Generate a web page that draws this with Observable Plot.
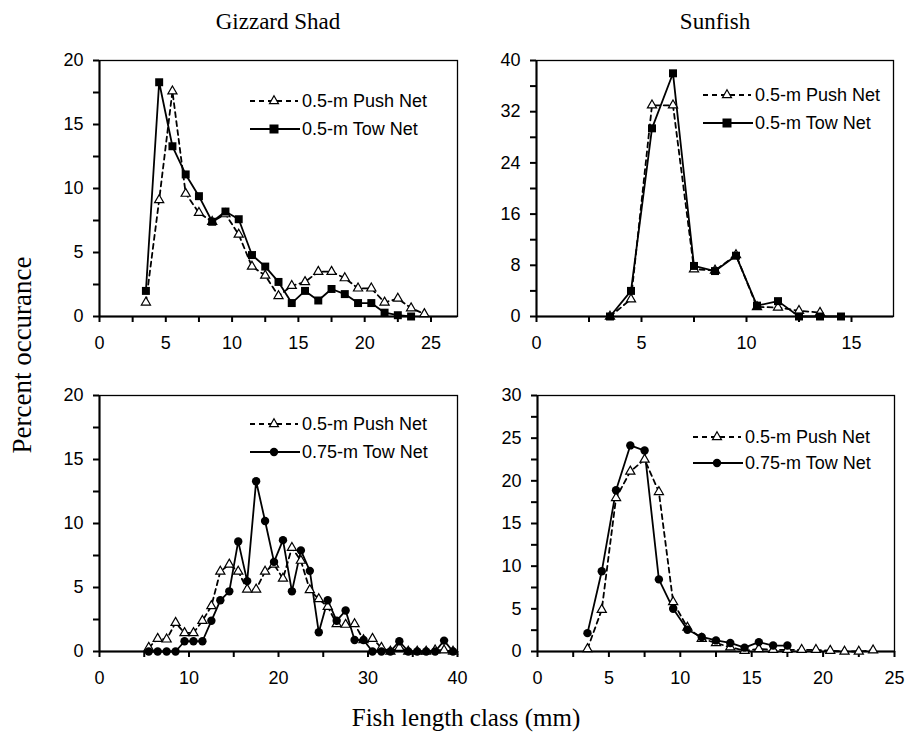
<!DOCTYPE html>
<html>
<head>
<meta charset="utf-8">
<script src="https://cdn.jsdelivr.net/npm/d3@7"></script>
<script src="https://cdn.jsdelivr.net/npm/@observablehq/plot@0.6"></script>
<style>
  html, body { margin: 0; padding: 0; background: white; }
  #root { position: relative; width: 907px; height: 739px; overflow: hidden; background: white; }
  .abs { position: absolute; }
  .title { font-family: "Liberation Serif", "Times New Roman", serif; font-size: 23px; color: #000; white-space: nowrap; transform: translate(-50%, -50%); }
  .axlab { font-family: "Liberation Serif", "Times New Roman", serif; font-size: 25px; color: #000; white-space: nowrap; }
  .legend { font-family: "Liberation Sans", Arial, sans-serif; font-size: 18px; }
</style>
</head>
<body>
<div id="root"></div>
<script>
// ---------- DATA ----------
// Gizzard Shad, top panel (0.5-m push net vs 0.5-m tow net)
const gsTopPushClass = [3.5,4.5,5.5,6.5,7.5,8.5,9.5,10.5,11.5,12.5,13.5,14.5,15.5,16.5,17.5,18.5,19.5,20.5,21.5,22.5,23.5,24.5];
const gsTopPush      = [1.1,9.1,17.6,9.6,8.1,7.4,8.0,6.4,3.9,3.2,1.6,2.4,2.7,3.5,3.5,3.0,2.2,2.2,1.1,1.4,0.65,0.2];
const gsTopTowClass  = [3.5,4.5,5.5,6.5,7.5,8.5,9.5,10.5,11.5,12.5,13.5,14.5,15.5,16.5,17.5,18.5,19.5,20.5,21.5,22.5,23.5];
const gsTopTow       = [2.0,18.3,13.3,11.1,9.4,7.4,8.2,7.6,4.8,3.9,2.7,1.05,2.0,1.25,2.15,1.75,1.05,1.05,0.3,0.1,0.0];

// Sunfish, top panel (0.5-m push net vs 0.5-m tow net)
const sfTopPushClass = [3.5,4.5,5.5,6.5,7.5,8.5,9.5,10.5,11.5,12.5,13.5];
const sfTopPush      = [0,2.7,33.0,33.0,7.4,7.2,9.6,1.5,1.4,0.9,0.6];
const sfTopTowClass  = [3.5,4.5,5.5,6.5,7.5,8.5,9.5,10.5,11.5,12.5,13.5,14.5];
const sfTopTow       = [0,4.0,29.4,38.0,7.9,7.1,9.5,1.7,2.4,0,0,0];

// Gizzard Shad, bottom panel (0.5-m push net vs 0.75-m tow net)
const gsBotClass = [5.5,6.5,7.5,8.5,9.5,10.5,11.5,12.5,13.5,14.5,15.5,16.5,17.5,18.5,19.5,20.5,21.5,22.5,23.5,24.5,25.5,26.5,27.5,28.5,29.5,30.5,31.5,32.5,33.5,34.5,35.5,36.5,37.5,38.5,39.5];
const gsBotPush  = [0.3,1.0,0.95,2.25,1.45,1.45,2.4,3.55,6.25,6.8,6.25,4.85,4.85,6.25,6.8,5.7,8.1,7.1,4.8,4.1,3.5,2.15,2.1,2.15,0.9,1.0,0.3,0,0.3,0,0,0,0.1,0.1,0];
const gsBotTow   = [0,0,0,0,0.8,0.8,0.8,2.4,4.0,4.7,8.6,5.5,13.3,10.2,7.0,8.7,4.7,7.9,6.3,1.5,4.0,2.4,3.2,0.9,0.9,0,0,0,0.8,0,0,0,0,0.85,0];

// Sunfish, bottom panel (0.5-m push net vs 0.75-m tow net)
const sfBotPushClass = [3.5,4.5,5.5,6.5,7.5,8.5,9.5,10.5,11.5,12.5,13.5,14.5,15.5,16.5,17.5,18.5,19.5,20.5,21.5,22.5,23.5];
const sfBotPush      = [0.3,4.9,18.0,21.1,22.5,18.7,5.8,2.8,1.5,1.0,0.5,0.1,0.3,0.2,0.2,0.2,0.2,0.1,0,0,0.15];
const sfBotTowClass  = [3.5,4.5,5.5,6.5,7.5,8.5,9.5,10.5,11.5,12.5,13.5,14.5,15.5,16.5,17.5];
const sfBotTow       = [2.15,9.4,18.9,24.15,23.55,8.45,5.0,2.55,1.7,1.3,1.0,0.45,1.1,0.7,0.7];

// Text
const columnTitles = ["Gizzard Shad", "Sunfish"];
const yTitle = "Percent occurance";
const xTitle = "Fish length class (mm)";
const pushLabel = "0.5-m Push Net";
const towLabels = ["0.5-m Tow Net", "0.75-m Tow Net"];

// Tick values
const tlXTicks = [0,2.5,5,7.5,10,12.5,15,17.5,20,22.5,25];
const tlXLabels = [0,5,10,15,20,25];
const tlYTicks = [0,2.5,5,7.5,10,12.5,15,17.5,20];
const tlYLabels = [0,5,10,15,20];
const trXTicks = [0,2.5,5,7.5,10,12.5,15];
const trXLabels = [0,5,10,15];
const trYTicks = [0,4,8,12,16,20,24,28,32,36,40];
const trYLabels = [0,8,16,24,32,40];
const blXTicks = [0,5,10,15,20,25,30,35,40];
const blXLabels = [0,10,20,30,40];
const blYTicks = tlYTicks;
const blYLabels = tlYLabels;
const brXTicks = [0,2.5,5,7.5,10,12.5,15,17.5,20,22.5,25];
const brXLabels = [0,5,10,15,20,25];
const brYTicks = [0,2.5,5,7.5,10,12.5,15,17.5,20,22.5,25,27.5,30];
const brYLabels = [0,5,10,15,20,25,30];

// ---------- DRAWING ----------
const root = document.getElementById("root");
const zip = (xs, ys) => xs.map((x, i) => ({x, y: ys[i]}));

function panel(o) {
  const push = zip(o.pushX, o.pushY);
  const tow = zip(o.towX, o.towY);
  const towDot = o.towSymbol === "square"
    ? Plot.dot(tow, {x: "x", y: "y", symbol: "square", r: 4.5, fill: "black", stroke: "none"})
    : Plot.dot(tow, {x: "x", y: "y", symbol: "circle", r: 4.2, fill: "black", stroke: "none"});
  const chart = Plot.plot({
    width: o.width, height: o.height,
    marginLeft: o.ml, marginRight: o.mr, marginTop: o.mt, marginBottom: o.mb,
    style: {fontFamily: "'Liberation Sans', Arial, sans-serif", fontSize: "18px", color: "black", background: "transparent", overflow: "visible"},
    x: {domain: o.xDomain},
    y: {domain: o.yDomain},
    marks: [
      Plot.frame({stroke: "black", strokeWidth: 1.3}),
      Plot.axisX({ticks: o.xTicks, tickSize: 6, tickPadding: 14, strokeWidth: 2, label: null,
        tickFormat: d => o.xLabels.includes(d) ? String(d) : ""}),
      Plot.axisY({ticks: o.yTicks, tickSize: 6, tickPadding: 10, strokeWidth: 2, label: null,
        tickFormat: d => o.yLabels.includes(d) ? String(d) : ""}),
      Plot.ruleX([o.xDomain[0]], {stroke: "black", strokeWidth: 2}),
      Plot.ruleY([o.yDomain[0]], {stroke: "black", strokeWidth: 2}),
      Plot.line(push, {x: "x", y: "y", stroke: "black", strokeWidth: 1.8, strokeDasharray: "5,4"}),
      Plot.line(tow, {x: "x", y: "y", stroke: "black", strokeWidth: 1.8}),
      Plot.dot(push, {x: "x", y: "y", symbol: "triangle", r: 3.4, fill: "white", stroke: "black", strokeWidth: 1.2}),
      towDot
    ]
  });
  chart.style.position = "absolute";
  chart.style.left = o.left + "px";
  chart.style.top = o.top + "px";
  root.appendChild(chart);
}

panel({left: 0, top: 0, width: 470, height: 370, ml: 99, mr: 13, mt: 60, mb: 54,
  xDomain: [0, 27], yDomain: [0, 20], xTicks: tlXTicks, xLabels: tlXLabels, yTicks: tlYTicks, yLabels: tlYLabels,
  pushX: gsTopPushClass, pushY: gsTopPush, towX: gsTopTowClass, towY: gsTopTow, towSymbol: "square"});
panel({left: 470, top: 0, width: 437, height: 370, ml: 66, mr: 14, mt: 60, mb: 54,
  xDomain: [0, 17], yDomain: [0, 40], xTicks: trXTicks, xLabels: trXLabels, yTicks: trYTicks, yLabels: trYLabels,
  pushX: sfTopPushClass, pushY: sfTopPush, towX: sfTopTowClass, towY: sfTopTow, towSymbol: "square"});
panel({left: 0, top: 370, width: 470, height: 369, ml: 99, mr: 13, mt: 25, mb: 88,
  xDomain: [0, 40], yDomain: [0, 20], xTicks: blXTicks, xLabels: blXLabels, yTicks: blYTicks, yLabels: blYLabels,
  pushX: gsBotClass, pushY: gsBotPush, towX: gsBotClass, towY: gsBotTow, towSymbol: "circle"});
panel({left: 470, top: 370, width: 437, height: 369, ml: 67, mr: 13, mt: 25, mb: 88,
  xDomain: [0, 25], yDomain: [0, 30], xTicks: brXTicks, xLabels: brXLabels, yTicks: brYTicks, yLabels: brYLabels,
  pushX: sfBotPushClass, pushY: sfBotPush, towX: sfBotTowClass, towY: sfBotTow, towSymbol: "circle"});

// Legends (decorations)
function legend(x0, y1, y2, towLabel, towSymbol) {
  const ns = "http://www.w3.org/2000/svg";
  const svg = document.createElementNS(ns, "svg");
  svg.setAttribute("width", 200); svg.setAttribute("height", 60);
  svg.style.position = "absolute"; svg.style.left = x0 + "px"; svg.style.top = (y1 - 15) + "px";
  svg.style.overflow = "visible";
  const r1 = 15, r2 = 15 + (y2 - y1);
  svg.innerHTML =
    `<line x1="0" x2="48" y1="${r1}" y2="${r1}" stroke="black" stroke-width="2" stroke-dasharray="5,4"/>` +
    `<path transform="translate(24,${r1})" d="${d3.symbol(d3.symbolTriangle, 35)()}" fill="white" stroke="black" stroke-width="1.2"/>` +
    `<line x1="0" x2="50" y1="${r2}" y2="${r2}" stroke="black" stroke-width="2"/>` +
    (towSymbol === "square"
      ? `<rect x="19.5" y="${r2 - 4.5}" width="9" height="9" fill="black"/>`
      : `<circle cx="24" cy="${r2}" r="4.2" fill="black"/>`) +
    `<text class="legend" x="52" y="${r1}" dy="0.35em" font-family="Liberation Sans, Arial, sans-serif" font-size="18">${pushLabel}</text>` +
    `<text class="legend" x="52" y="${r2}" dy="0.35em" font-family="Liberation Sans, Arial, sans-serif" font-size="18">${towLabel}</text>`;
  root.appendChild(svg);
}
legend(250, 101, 129, towLabels[0], "square");
legend(703, 95, 123, towLabels[0], "square");
legend(250, 424, 452, towLabels[1], "circle");
legend(693, 437, 463, towLabels[1], "circle");

// Titles and axis labels
function addText(cls, txt, x, y, extra) {
  const d = document.createElement("div");
  d.className = "abs " + cls;
  d.textContent = txt;
  d.style.left = x + "px"; d.style.top = y + "px";
  if (extra) Object.assign(d.style, extra);
  root.appendChild(d);
}
addText("title", columnTitles[0], 278, 22);
addText("title", columnTitles[1], 715, 22);
addText("axlab", yTitle, 22, 355, {transform: "translate(-50%, -50%) rotate(-90deg)", fontSize: "27px"});
addText("axlab", xTitle, 466, 718, {transform: "translate(-50%, -50%)"});
</script>
</body>
</html>
